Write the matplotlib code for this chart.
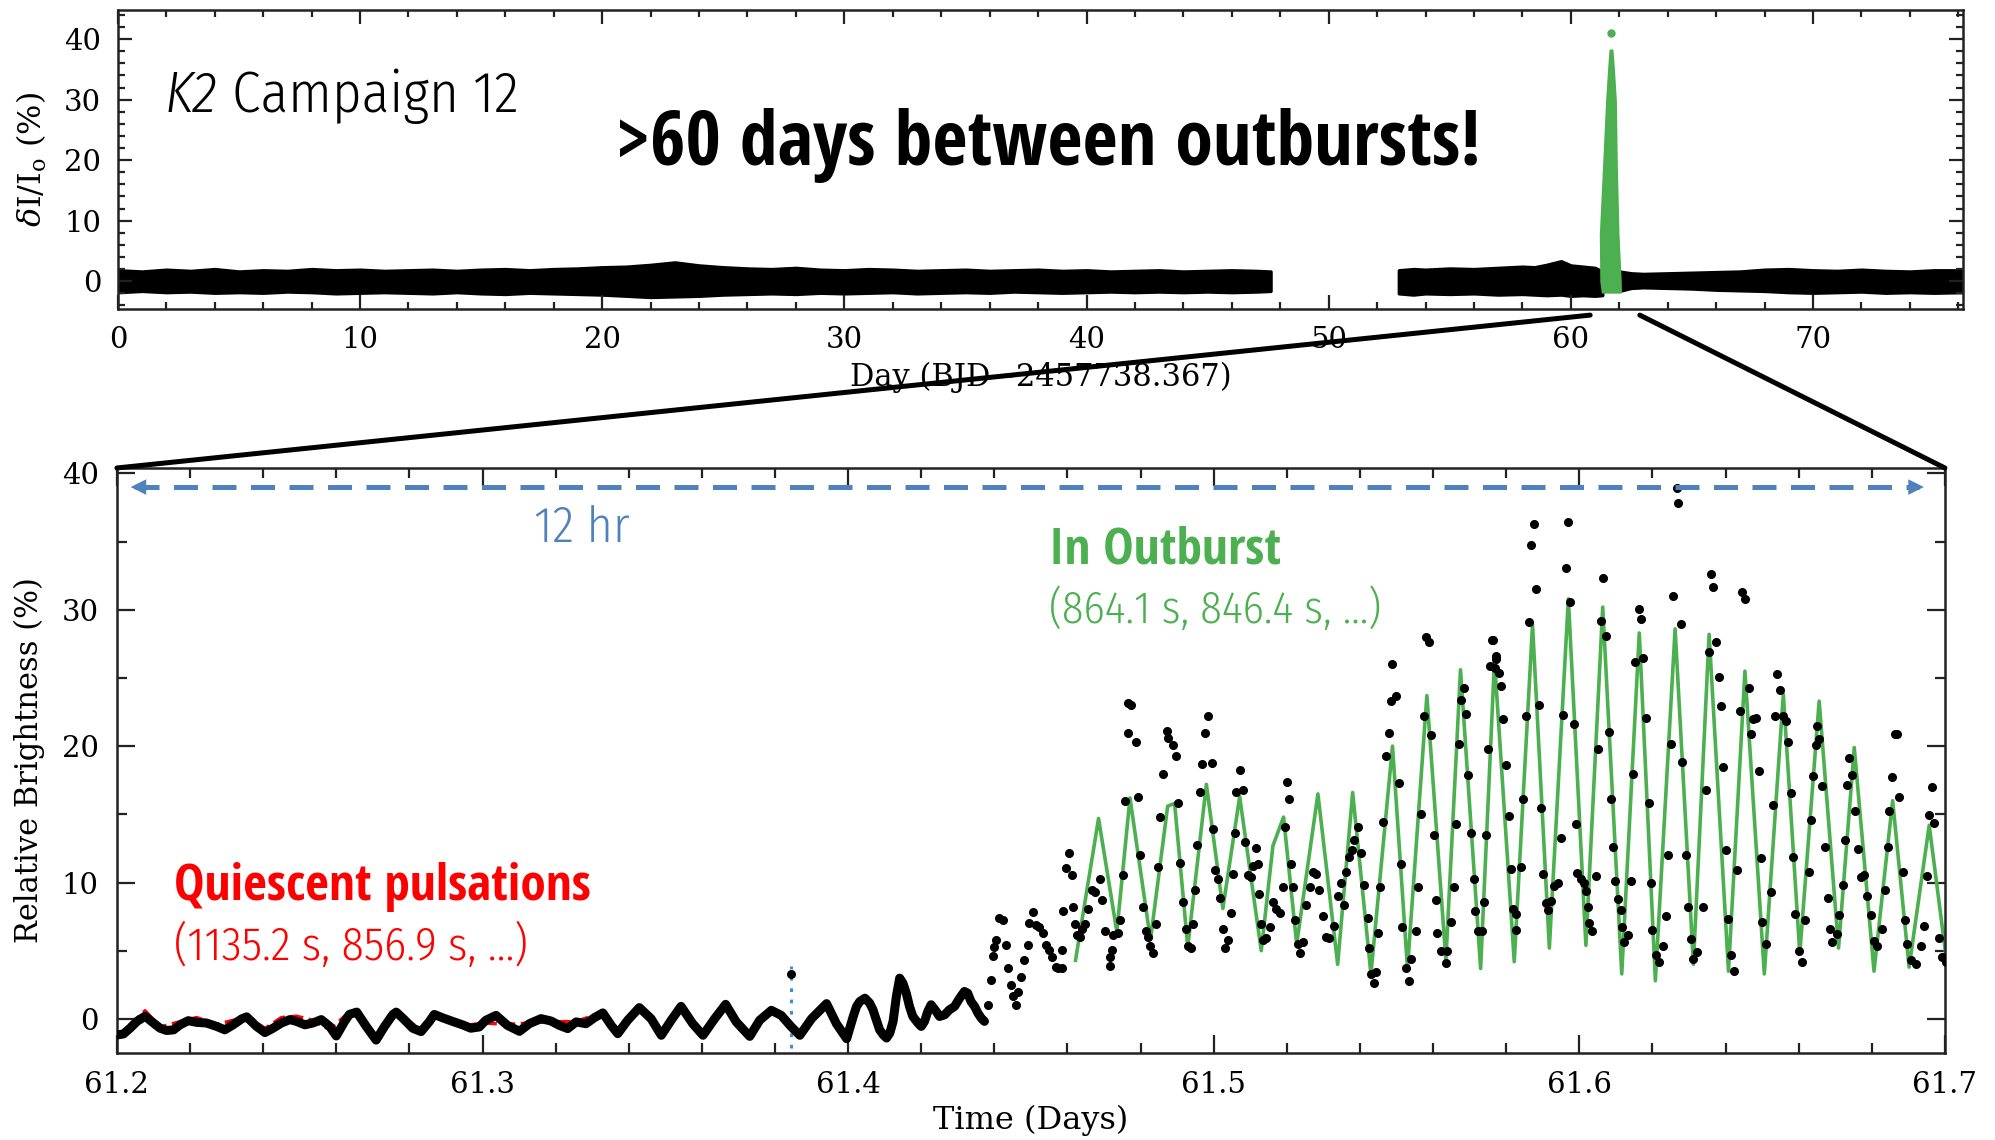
import matplotlib.pyplot as plt
from matplotlib.patches import ConnectionPatch
from matplotlib.ticker import MultipleLocator

# ---------------- top panel: whole campaign (envelope of the dense black band)
seg1_day = [0, 1, 2, 3, 4, 5, 6, 7, 8, 9, 10, 11, 12, 13, 14, 15, 16, 17, 18, 19, 20, 21, 22, 23, 24,
            25, 26, 27, 28, 29, 30, 31, 32, 33, 34, 35, 36, 37, 38, 39, 40, 41, 42, 43, 44, 45, 46, 47, 47.6]
seg1_hi = [1.8, 1.6, 1.9, 1.7, 2.0, 1.6, 1.8, 1.7, 2.0, 1.8, 1.9, 1.7, 1.8, 1.9, 1.7, 1.9, 2.0, 1.8, 2.0, 2.1,
           2.3, 2.4, 2.7, 3.1, 2.6, 2.3, 2.1, 2.0, 2.2, 1.9, 1.8, 2.0, 1.9, 1.7, 1.8, 1.9, 1.7, 1.8, 1.9, 1.7,
           1.8, 1.6, 1.7, 1.8, 1.6, 1.7, 1.8, 1.7, 1.6]
seg1_lo = [-1.8, -1.6, -1.8, -1.7, -1.9, -1.8, -1.9, -1.7, -1.8, -2.0, -1.9, -1.8, -1.9, -2.0, -1.8, -2.0, -2.1,
           -1.9, -2.0, -2.1, -2.2, -2.4, -2.6, -2.5, -2.4, -2.2, -2.1, -2.0, -2.1, -1.9, -2.0, -1.9, -1.8, -2.0,
           -1.9, -1.8, -1.9, -1.7, -1.8, -1.9, -1.8, -1.7, -1.8, -1.7, -1.8, -1.7, -1.8, -1.7, -1.6]
seg2_day = [52.9, 53.5, 54, 55, 56, 57, 58, 58.5, 59, 59.6, 60, 60.5, 61, 61.3]
seg2_hi = [1.8, 2.0, 1.9, 2.1, 2.0, 2.2, 2.4, 2.3, 2.7, 3.3, 2.6, 2.4, 2.2, 1.6]
seg2_lo = [-2.0, -2.2, -2.0, -2.1, -2.0, -2.2, -2.1, -2.2, -2.3, -2.2, -2.4, -2.3, -2.4, -2.3]
seg3_day = [62.0, 62.5, 63, 64, 65, 66, 67, 68, 69, 70, 71, 72, 73, 74, 75, 76.2]
seg3_hi = [1.6, 1.3, 1.2, 1.3, 1.4, 1.5, 1.6, 1.9, 2.0, 1.8, 1.7, 1.9, 1.7, 1.6, 1.8, 1.8]
seg3_lo = [-1.6, -1.1, -1.0, -1.1, -1.2, -1.4, -1.5, -1.6, -1.8, -1.9, -1.8, -1.7, -1.9, -1.8, -1.9, -1.8]
# outburst spike (green) as left/right edges at several flux levels
spike_y = [-1.8, 0.0, 7.7, 18.8, 29.8, 35.0, 38.2]
spike_left = [61.30, 61.24, 61.22, 61.35, 61.48, 61.56, 61.62]
spike_right = [62.05, 62.04, 61.95, 61.88, 61.84, 61.76, 61.70]
spike_peak = (61.64, 41.0)

# ---------------- bottom panel: zoom on 61.2 - 61.7
# quiescent part, dense points forming a continuous wiggle
quiet_t = [61.2000, 61.2018, 61.2036, 61.2055, 61.2077, 61.2100, 61.2118, 61.2136, 61.2155, 61.2173, 61.2195,
           61.2218, 61.2245, 61.2273, 61.2295, 61.2318, 61.2341, 61.2355, 61.2382, 61.2405, 61.2427, 61.2450,
           61.2473, 61.2491, 61.2514, 61.2536, 61.2559, 61.2582, 61.2600, 61.2623, 61.2636, 61.2656, 61.2682,
           61.2709, 61.2732, 61.2755, 61.2764, 61.2786, 61.2809, 61.2832, 61.2855, 61.2868, 61.2891, 61.2918,
           61.2945, 61.2968, 61.2991, 61.3009, 61.3037, 61.3068, 61.3101, 61.3128, 61.3160, 61.3187, 61.3210,
           61.3233, 61.3256, 61.3283, 61.3306, 61.3329, 61.3352, 61.3370, 61.3397, 61.3429, 61.3461, 61.3489,
           61.3516, 61.3543, 61.3575, 61.3603, 61.3635, 61.3665, 61.3694, 61.3731, 61.3758, 61.3790, 61.3817,
           61.3845, 61.3868, 61.3900, 61.3941, 61.3968, 61.3996, 61.4014, 61.4023, 61.4032, 61.4046, 61.4059,
           61.4068, 61.4077, 61.4086, 61.4096, 61.4105, 61.4114, 61.4123, 61.4132, 61.4141, 61.4150, 61.4159,
           61.4168, 61.4177, 61.4191, 61.4200, 61.4209, 61.4218, 61.4227, 61.4241, 61.4250, 61.4264, 61.4277,
           61.4291, 61.4305, 61.4318, 61.4327, 61.4336, 61.4346, 61.4355, 61.4364, 61.4373]
quiet_y = [-1.18, -1.10, -0.68, -0.18, 0.20, -0.30, -0.68, -0.85, -0.80, -0.43, -0.13, -0.25, -0.30, -0.55,
           -0.80, -0.43, 0.00, 0.15, -0.55, -1.00, -0.68, -0.30, -0.05, -0.18, -0.43, -0.30, -0.05, -0.55, -1.25,
           -0.18, 0.33, 0.50, -0.55, -1.55, -0.55, 0.33, 0.50, -0.05, -0.68, -0.93, -0.18, 0.33, 0.08, -0.18,
           -0.43, -0.68, -0.59, -0.10, 0.26, -0.47, -0.91, -0.35, 0.02, -0.15, -0.47, -0.71, -0.22, -0.35, 0.09,
           0.44, -0.47, -1.08, -0.10, 0.83, 0.02, -1.20, -0.10, 0.92, -0.35, -1.20, 0.02, 1.07, -0.22, -1.28,
           -0.10, 0.63, 0.26, -0.59, -1.20, 0.02, 1.12, -0.35, -1.45, 0.18, 0.91, 1.28, 1.52, 1.16, 0.67, -0.06,
           -0.79, -1.16, -1.40, -1.04, -0.18, 1.65, 2.99, 2.62, 1.89, 0.91, 0.18, -0.30, -0.55, -0.18, 0.55, 1.04,
           0.55, 0.18, 0.30, 0.67, 0.91, 1.52, 2.01, 1.89, 1.28, 0.91, 0.43, 0.06, -0.18]
# pulsation model for quiescence (mostly hidden under the points)
red_t = [61.2000, 61.2036, 61.2077, 61.2118, 61.2173, 61.2218, 61.2273, 61.2318, 61.2355, 61.2405, 61.2450,
         61.2491, 61.2536, 61.2582, 61.2623, 61.2656, 61.2709, 61.2764, 61.2832, 61.2868, 61.2945, 61.3005,
         61.3068, 61.3128, 61.3187, 61.3256, 61.3329, 61.3370, 61.3429, 61.3489, 61.3543, 61.3603, 61.3665,
         61.3731, 61.3790, 61.3868, 61.3941]
red_y = [-1.4, -0.4, 0.6, -0.6, -0.2, 0.1, -0.4, -0.1, 0.2, -0.7, 0.1, 0.2, -0.1, -0.8, 0.2, 0.4, -1.3, 0.5,
         -0.8, 0.3, -0.5, -0.3, -0.4, -0.3, -0.2, -0.2, 0.5, -0.9, 0.9, -1.0, 0.9, -1.0, 1.1, -1.2, 0.8, -1.1, 1.0]
# individual points from the start of the outburst on
burst_t = [61.4382, 61.4391, 61.4395, 61.4400, 61.4405, 61.4414, 61.4423, 61.4432, 61.4436, 61.4445, 61.4450,
           61.4459, 61.4464, 61.4473, 61.4482, 61.4491, 61.4495, 61.4505, 61.4514, 61.4523, 61.4532, 61.4541,
           61.4550, 61.4559, 61.4568, 61.4573,
           61.4585, 61.4585, 61.4603, 61.4596, 61.4612, 61.4589, 61.4616, 61.4621, 61.4625, 61.4635, 61.4639,
           61.4648, 61.4657, 61.4666, 61.4675, 61.4689, 61.4694, 61.4703, 61.4721, 61.4716, 61.4716, 61.4725,
           61.4739, 61.4744, 61.4753, 61.4757, 61.4766, 61.4775, 61.4766, 61.4787, 61.4794, 61.4798, 61.4807,
           61.4815, 61.4821, 61.4825, 61.4835, 61.4842, 61.4848, 61.4853, 61.4862, 61.4871, 61.4875, 61.4889,
           61.4896, 61.4903, 61.4909, 61.4916, 61.4924, 61.4930, 61.4939, 61.4944, 61.4948, 61.4955, 61.4962,
           61.4969, 61.4975, 61.4985, 61.4994, 61.4998, 61.5003, 61.5012, 61.5016, 61.5025, 61.5030, 61.5039,
           61.5048, 61.5053, 61.5057, 61.5062, 61.5071, 61.5080, 61.5085, 61.5094, 61.5103, 61.5107, 61.5116,
           61.5121, 61.5125, 61.5130, 61.5135, 61.5144, 61.5153, 61.5162, 61.5171, 61.5180, 61.5189, 61.5194,
           61.5200, 61.5205, 61.5212, 61.5216, 61.5221, 61.5230, 61.5235, 61.5244, 61.5253, 61.5262, 61.5271,
           61.5280, 61.5289, 61.5298, 61.5307, 61.5316, 61.5330, 61.5339, 61.5348, 61.5355, 61.5362, 61.5371,
           61.5378, 61.5385, 61.5394, 61.5403, 61.5412, 61.5421, 61.5425, 61.5430, 61.5439, 61.5444, 61.5448,
           61.5455, 61.5462, 61.5471, 61.5480, 61.5485, 61.5489, 61.5498, 61.5507, 61.5512, 61.5516, 61.5525,
           61.5535, 61.5539, 61.5553, 61.5560, 61.5566, 61.5575, 61.5580, 61.5589, 61.5594, 61.5603, 61.5607,
           61.5612, 61.5621, 61.5635, 61.5639, 61.5648, 61.5657, 61.5662, 61.5671, 61.5675, 61.5684, 61.5689,
           61.5696, 61.5703, 61.5712, 61.5716, 61.5724, 61.5735, 61.5739, 61.5744, 61.5751, 61.5757, 61.5762,
           61.5771,
           61.5763, 61.5768, 61.5772, 61.5781, 61.5786, 61.5792, 61.5800, 61.5809, 61.5813, 61.5818, 61.5827,
           61.5827, 61.5841, 61.5845, 61.5854, 61.5862, 61.5868, 61.5875, 61.5882, 61.5889, 61.5895, 61.5902,
           61.5909, 61.5913, 61.5923, 61.5932, 61.5941, 61.5950, 61.5956, 61.5964, 61.5970, 61.5975, 61.5986,
           61.5991, 61.5995, 61.6005, 61.6014, 61.6018, 61.6023, 61.6027, 61.6036, 61.6046, 61.6050, 61.6059,
           61.6066, 61.6073, 61.6080, 61.6087, 61.6093, 61.6098, 61.6105, 61.6114, 61.6118, 61.6123, 61.6132,
           61.6141, 61.6148, 61.6153, 61.6162, 61.6169, 61.6175, 61.6182, 61.6190, 61.6196, 61.6200, 61.6210,
           61.6219, 61.6228, 61.6237, 61.6243, 61.6251, 61.6255, 61.6266, 61.6271, 61.6278, 61.6282, 61.6292,
           61.6298, 61.6305, 61.6312, 61.6323, 61.6337, 61.6346, 61.6354, 61.6360, 61.6366, 61.6374, 61.6381,
           61.6387, 61.6394, 61.6401, 61.6408, 61.6415, 61.6424, 61.6430, 61.6439, 61.6446, 61.6454, 61.6463,
           61.6469, 61.6474, 61.6483, 61.6492, 61.6497, 61.6501, 61.6510, 61.6524, 61.6530, 61.6536, 61.6542,
           61.6549, 61.6556, 61.6565, 61.6572, 61.6579, 61.6585, 61.6590, 61.6601, 61.6610, 61.6618, 61.6627,
           61.6633, 61.6638, 61.6647, 61.6651, 61.6656, 61.6665, 61.6672, 61.6679, 61.6685, 61.6692, 61.6706,
           61.6711, 61.6720, 61.6727, 61.6733, 61.6738, 61.6747, 61.6754, 61.6761, 61.6770, 61.6779, 61.6788,
           61.6797, 61.6806, 61.6815, 61.6827, 61.6836, 61.6843, 61.6847, 61.6856, 61.6864, 61.6870, 61.6875,
           61.6884, 61.6891, 61.6897, 61.6907, 61.6920, 61.6934, 61.6943, 61.6952, 61.6957, 61.6964, 61.6970,
           61.6984, 61.6993, 61.7002]
burst_y = [1.04, 2.87, 4.62, 5.30, 5.79, 7.38, 7.26, 5.43, 3.72, 2.50, 1.65, 1.04, 2.01, 3.11, 4.33, 5.43, 7.01,
           7.87, 6.89, 6.77, 6.28, 5.43, 5.06, 4.57, 3.84, 3.72,
           5.08, 3.72, 12.15, 11.06, 10.52, 7.93, 8.21, 6.98, 6.17, 6.03, 6.58, 6.98, 8.07, 9.43, 9.29, 10.24,
           8.75, 6.44, 5.08, 4.54, 3.86, 6.17, 6.30, 7.26, 10.52, 15.95, 23.15, 23.02, 20.98, 20.30, 16.28, 12.01,
           8.21, 6.44, 6.03, 5.35, 4.81, 6.98, 11.11, 14.81, 17.99, 21.11, 20.57, 20.08, 19.27, 15.82, 11.47, 8.61,
           6.58, 5.35, 5.22, 6.98, 9.43, 12.74, 16.63, 18.67, 20.98, 22.20, 18.80, 13.91, 10.92, 10.24, 8.89, 6.58,
           5.22, 5.76, 7.80, 10.65, 13.64, 16.63, 18.26, 16.77, 12.96, 10.52, 10.38, 11.20, 12.55, 11.33, 9.16,
           6.98, 5.76, 5.90, 6.71, 8.61, 8.07, 7.80, 9.70, 14.05, 17.36, 16.09, 11.33, 9.70, 7.26, 5.49, 4.81, 5.63,
           8.34, 9.70, 10.79, 10.65, 9.43, 7.53, 6.03, 5.90, 6.85, 9.02, 9.97, 8.34, 10.79, 11.88, 12.42, 13.10,
           14.05, 12.15, 9.84, 7.39, 5.22, 3.32, 2.64, 3.45, 6.30, 9.70, 14.46, 19.27, 20.98, 23.29, 26.01, 23.70,
           17.31, 11.33, 6.71, 3.72, 2.77, 4.40, 6.44, 9.70, 15.00, 22.20, 28.04, 27.64, 20.84, 13.51, 8.75, 6.30,
           4.95, 4.13, 4.95, 7.12, 9.70, 14.32, 20.16, 23.42, 24.24, 22.34, 17.85, 13.64, 10.24, 7.93, 6.44, 6.44,
           8.61, 13.51, 19.81, 25.87, 27.77, 26.41,
           27.80, 25.76, 26.58, 25.35, 24.40, 21.96, 18.61, 14.89, 11.01, 8.04, 7.69, 6.55, 11.14, 16.11, 22.23,
           29.08, 34.73, 36.30, 31.52, 23.04, 15.43, 10.60, 8.51, 7.96, 8.64, 9.73, 10.00, 13.26, 22.31, 33.04,
           36.41, 30.60, 21.60, 14.29, 10.68, 10.27, 10.00, 9.40, 8.23, 7.07, 6.47, 10.49, 19.78, 29.16, 32.34,
           28.07, 21.06, 16.11, 12.58, 10.14, 8.78, 7.96, 6.74, 5.65, 6.14, 10.14, 17.96, 26.17, 30.05, 29.29,
           26.49, 22.09, 15.84, 10.00, 6.52, 4.70, 4.16, 5.33, 7.55, 12.04, 20.14, 30.98, 38.9, 37.8, 28.97,
           18.83, 12.04, 8.23, 5.84, 4.43, 4.89, 8.23, 16.79, 26.90, 32.61, 31.66, 27.61, 25.08, 22.91, 18.48,
           12.36, 7.36, 4.70, 3.48, 10.95, 22.55, 31.33, 30.79, 24.27, 20.92, 21.96, 22.09, 18.15, 11.77, 7.09,
           5.52, 9.32, 15.71, 22.23, 25.30, 24.13, 22.23, 21.82, 20.33, 16.60, 11.85, 7.69, 4.97, 4.16, 7.28,
           10.76, 14.62, 17.80, 20.11, 21.47, 20.52, 17.07, 12.64, 8.86, 6.60, 5.65, 6.20, 7.61, 9.81, 13.13,
           17.15, 19.10, 17.88, 15.24, 12.45, 10.41, 10.54, 8.99, 7.61, 5.71, 5.33, 6.60, 9.46, 12.58, 15.24,
           17.74, 20.87, 20.87, 16.30, 10.76, 7.28, 5.52, 4.29, 4.02, 5.33, 6.79, 10.49, 14.95, 16.98, 14.35,
           5.92, 4.57, 4.16]
# outburst pulsation model (extrema of the green curve)
green_t = [61.4622, 61.4685, 61.4735, 61.4771, 61.4827, 61.4874, 61.4893, 61.4929, 61.4980, 61.5025, 61.5071,
           61.5130, 61.5162, 61.5191, 61.5227, 61.5285, 61.5339, 61.5380, 61.5430, 61.5489, 61.5530, 61.5583,
           61.5635, 61.5675, 61.5730, 61.5768, 61.5822, 61.5872, 61.5918, 61.5970, 61.6018, 61.6064, 61.6116,
           61.6164, 61.6208, 61.6262, 61.6312, 61.6355, 61.6408, 61.6453, 61.6506, 61.6558, 61.6603, 61.6656,
           61.6709, 61.6752, 61.6806, 61.6857, 61.6902, 61.6957, 61.7002]
green_y = [4.3, 14.7, 6.4, 16.2, 5.8, 15.6, 15.8, 5.3, 17.2, 8.1, 16.3, 5.0, 12.7, 14.8, 5.5, 16.5, 4.0, 16.6,
           3.3, 20.0, 3.7, 23.7, 4.3, 25.6, 3.7, 26.3, 4.2, 28.9, 5.2, 30.8, 5.4, 30.2, 3.3, 28.3, 2.8, 28.6, 4.0,
           28.2, 3.5, 25.5, 3.3, 23.8, 4.8, 23.3, 5.2, 19.9, 3.5, 16.0, 3.8, 14.2, 4.8]
marker_time = 61.3845
marker_point = (61.3845, 3.3)
span_start, span_end, span_level = 61.203, 61.695, 39.0

GREEN = '#4caf50'
RED = '#ff0000'
BLUE = '#4f81bd'
COND_BOLD = ['Open Sans Condensed', 'Fira Sans Condensed', 'DejaVu Sans']
COND_LIGHT = ['Open Sans Condensed Light', 'Fira Sans Condensed', 'DejaVu Sans']

plt.rcParams['font.family'] = ['DejaVu Serif']
plt.rcParams['mathtext.fontset'] = 'dejavuserif'

fig = plt.figure(figsize=(19.95, 11.4), dpi=100)
ax1 = fig.add_axes([0.0591, 0.7289, 0.9249, 0.2623])
ax2 = fig.add_axes([0.0586, 0.0763, 0.9163, 0.5132])

for ax in (ax1, ax2):
    for s in ax.spines.values():
        s.set_linewidth(1.8)
        s.set_color('#222222')
    ax.tick_params(which='both', direction='in', top=True, right=True, width=1.6, color='#222222')

# top panel
for d, hi, lo in ((seg1_day, seg1_hi, seg1_lo), (seg2_day, seg2_hi, seg2_lo), (seg3_day, seg3_hi, seg3_lo)):
    ax1.fill_between(d, lo, hi, color='black', lw=2.5, edgecolor='black', joinstyle='round')
ax1.fill_betweenx(spike_y, spike_left, spike_right, color=GREEN, lw=1.5, edgecolor=GREEN)
ax1.plot(*spike_peak, 'o', color=GREEN, ms=5)
ax1.set_xlim(0, 76.2)
ax1.set_ylim(-4.6, 44.8)
ax1.xaxis.set_major_locator(MultipleLocator(10))
ax1.xaxis.set_minor_locator(MultipleLocator(2))
ax1.yaxis.set_major_locator(MultipleLocator(10))
ax1.yaxis.set_minor_locator(MultipleLocator(2))
ax1.tick_params(which='major', length=10, pad=12, labelsize=21)
ax1.tick_params(which='minor', length=5)
ax1.set_xlabel('Day (BJD\u22122457738.367)', fontsize=22, labelpad=6)
ax1.set_ylabel(r'$\delta$I/I$_{\rm o}$ (%)', fontsize=23, labelpad=11)

k2 = ax1.text(1.94, 28.0, 'K2', style='italic', fontsize=41, family=COND_LIGHT, weight=300, va='baseline')
ax1.annotate(' Campaign 12', xy=(1, 0), xycoords=k2, va='bottom', ha='left', fontsize=41,
             family=COND_LIGHT, weight=300)
ax1.text(20.55, 19.2, '>60 days between outbursts!', fontsize=55, fontweight='bold', family=COND_BOLD,
         va='baseline')

# bottom panel
ax2.plot(red_t, red_y, color=RED, lw=2.5, ls='--', zorder=2)
ax2.plot(quiet_t, quiet_y, color='black', lw=6.5, solid_joinstyle='round', solid_capstyle='round', zorder=3)
ax2.plot(green_t, green_y, color=GREEN, lw=2.6, zorder=2)
ax2.plot(burst_t, burst_y, 'o', color='black', ms=5.5, zorder=3)
ax2.vlines(marker_time, -2.1, 3.9, colors='#3c8dd6', linestyles=(0, (1.2, 2.5)), lw=2.2, zorder=2)
ax2.plot(*marker_point, 'o', color='black', ms=5.5, zorder=3)

ax2.plot([span_start + 0.002, span_end - 0.002], [span_level, span_level], color=BLUE, lw=3.6,
         dashes=(4.8, 2.9), zorder=4)
for a, b in ((span_end - 0.004, span_end), (span_start + 0.004, span_start)):
    ax2.annotate('', xy=(b, span_level), xytext=(a, span_level),
                 arrowprops=dict(arrowstyle='-|>', color=BLUE, lw=0, mutation_scale=28))

ax2.set_xlim(61.2, 61.7)
ax2.set_ylim(-2.5, 40.4)
ax2.xaxis.set_major_locator(MultipleLocator(0.1))
ax2.xaxis.set_minor_locator(MultipleLocator(0.02))
ax2.yaxis.set_major_locator(MultipleLocator(10))
ax2.yaxis.set_minor_locator(MultipleLocator(5))
ax2.xaxis.set_major_formatter(plt.FuncFormatter(lambda v, p: f'{v:.1f}'))
ax2.tick_params(which='major', length=13, pad=13, labelsize=21)
ax2.tick_params(which='minor', length=7)
ax2.set_xlabel('Time (Days)', fontsize=23, labelpad=4)
ax2.set_ylabel('Relative Brightness (%)', fontsize=22, labelpad=12)

ax2.text(61.314, 35.0, '12 hr', color=BLUE, fontsize=36, family=COND_LIGHT, weight=300, va='baseline')
ax2.text(61.455, 33.4, 'In Outburst', color=GREEN, fontsize=37, fontweight='bold', family=COND_BOLD,
         va='baseline')
ax2.text(61.455, 29.0, '(864.1 s, 846.4 s, ...)', color=GREEN, fontsize=32, family=COND_LIGHT, weight=300,
         va='baseline')
ax2.text(61.2157, 8.7, 'Quiescent pulsations', color=RED, fontsize=37, fontweight='bold', family=COND_BOLD,
         va='baseline')
ax2.text(61.2157, 4.3, '(1135.2 s, 856.9 s, ...)', color=RED, fontsize=33, family=COND_LIGHT, weight=300,
         va='baseline')

# zoom connectors
for xa, xb in ((60.8, 0), (62.85, 1)):
    con = ConnectionPatch(xyA=(xa, -5.6), coordsA=ax1.transData, xyB=(xb, 1), coordsB=ax2.transAxes,
                          color='black', lw=3.6)
    fig.add_artist(con)

fig.savefig('out.png', dpi=100)
